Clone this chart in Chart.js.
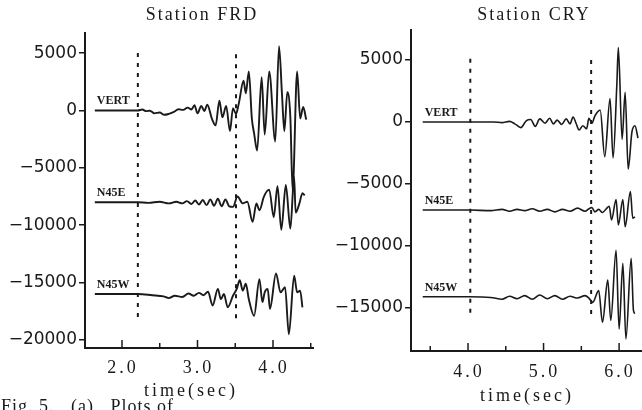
<!DOCTYPE html>
<html>
<head>
<meta charset="utf-8">
<script src="https://cdn.jsdelivr.net/npm/chart.js@4.4.1/dist/chart.umd.min.js"></script>
<style>
  html, body { margin: 0; padding: 0; background: #fff; }
  #wrap { position: relative; width: 642px; height: 410px; overflow: hidden; background: #fff; }
  canvas { position: absolute; top: 0; }
  #left { left: 0; }
  #right { left: 321px; }
  #caption { position: absolute; left: 1px; top: 396px; font: 18px "Liberation Serif", serif; letter-spacing: 1px; white-space: pre; color: #1a1a1a; }
</style>
</head>
<body>
<div id="wrap">
  <canvas id="left" width="321" height="410"></canvas>
  <canvas id="right" width="321" height="410"></canvas>
  <div id="caption">Fig. 5.   (a)   Plots of</div>
</div>
<script>
// component names, drawn at the start of each trace
const components = ['VERT', 'N45E', 'N45W']

// ---- Station FRD ----
const frdVertT = [1.64, 2.21, 2.27, 2.32, 2.37, 2.43, 2.50, 2.56, 2.62, 2.68, 2.75, 2.81, 2.87, 2.92, 2.96, 3.00, 3.05, 3.09, 3.13, 3.19, 3.24, 3.29, 3.33, 3.38, 3.43, 3.47, 3.51, 3.55, 3.61, 3.64, 3.68, 3.72, 3.75, 3.79, 3.85, 3.89, 3.95, 4.03, 4.08, 4.12, 4.15, 4.19, 4.23, 4.26, 4.32, 4.36, 4.40, 4.44]
const frdVert = [0, 0, 80, -60, -20, -250, -180, -380, -300, -150, 100, 50, 250, 80, 450, -250, 400, -50, 500, -700, -1300, 850, -600, 400, -1800, 200, -300, 700, 2600, 1500, 3400, -700, -2000, -3500, 2900, -2100, 3400, -2700, 5600, 1300, -1800, 1600, -600, -7000, 3400, -700, 300, -800]

const frdN45eT = [1.64, 2.21, 2.35, 2.5, 2.62, 2.72, 2.8, 2.86, 2.92, 2.97, 3.02, 3.07, 3.12, 3.17, 3.22, 3.27, 3.32, 3.37, 3.42, 3.47, 3.53, 3.60, 3.66, 3.73, 3.78, 3.82, 3.88, 3.95, 4.01, 4.06, 4.11, 4.17, 4.23, 4.28, 4.30, 4.35, 4.39, 4.42]
const frdN45e = [-8000, -8000, -8050, -7950, -8100, -7950, -8100, -7900, -8150, -7850, -8200, -7800, -8250, -7750, -8300, -7700, -8350, -7750, -8350, -8400, -7500, -8100, -7950, -9700, -8100, -8700, -7500, -6900, -9300, -6600, -10400, -6500, -10300, -5800, -8900, -8100, -7200, -7400]

const frdN45wT = [1.64, 2.21, 2.4, 2.55, 2.62, 2.7, 2.8, 2.88, 2.95, 3.02, 3.08, 3.14, 3.20, 3.27, 3.31, 3.35, 3.40, 3.47, 3.52, 3.56, 3.60, 3.64, 3.68, 3.75, 3.82, 3.86, 3.89, 3.93, 3.96, 4.04, 4.10, 4.16, 4.21, 4.28, 4.32, 4.36, 4.39]
const frdN45w = [-16000, -16000, -16100, -16200, -16350, -16150, -16250, -15950, -16150, -15900, -16100, -15800, -17000, -15550, -16450, -16000, -17150, -16150, -15550, -14800, -15700, -15100, -16450, -17900, -14700, -16700, -15850, -15550, -17300, -14200, -15850, -15400, -19500, -14400, -15850, -15700, -17150]

const frdPickTimes = [2.21, 3.51]
const frdPickTop = [5000, 4900]
const frdPickBottom = [-18000, -18300]
const frdYTicks = [5000, 0, -5000, -10000, -15000, -20000]
const frdXTicks = [2.0, 2.5, 3.0, 3.5, 4.0, 4.5]
const frdXLabels = [2.0, 3.0, 4.0]

// ---- Station CRY ----
const cryVertT = [3.40, 4.03, 4.34, 4.45, 4.55, 4.62, 4.70, 4.77, 4.83, 4.89, 4.95, 5.02, 5.08, 5.13, 5.18, 5.24, 5.30, 5.35, 5.39, 5.43, 5.47, 5.52, 5.57, 5.60, 5.64, 5.68, 5.75, 5.81, 5.88, 5.92, 5.97, 5.99, 6.04, 6.08, 6.12, 6.17, 6.21, 6.25]
const cryVert = [0, 0, 0, -50, 50, -150, -450, 100, 200, -350, 250, -100, 300, -150, 150, -200, 250, -150, 400, -100, -650, -300, -550, 300, -100, 500, 950, -2800, 1900, -2900, 3000, 6000, -1400, 2400, -3800, -800, -300, -1300]

const cryN45eT = [3.40, 4.03, 4.3, 4.45, 4.55, 4.65, 4.75, 4.85, 4.95, 5.05, 5.15, 5.25, 5.35, 5.45, 5.55, 5.60, 5.64, 5.68, 5.73, 5.78, 5.83, 5.87, 5.90, 5.96, 5.99, 6.05, 6.08, 6.15, 6.18, 6.21]
const cryN45e = [-7100, -7100, -7150, -7050, -7200, -7050, -7150, -7000, -7200, -7050, -7250, -7050, -7200, -6950, -7200, -7000, -6900, -7250, -7050, -7300, -7000, -6800, -7900, -6250, -8300, -6250, -8450, -5600, -7750, -7650]

const cryN45wT = [3.40, 4.02, 4.3, 4.45, 4.55, 4.65, 4.75, 4.85, 4.95, 5.05, 5.15, 5.25, 5.35, 5.45, 5.55, 5.60, 5.65, 5.73, 5.78, 5.85, 5.89, 5.96, 6.00, 6.05, 6.09, 6.16, 6.19, 6.21]
const cryN45w = [-14100, -14100, -14150, -14300, -14050, -14250, -14000, -14300, -13950, -14250, -14000, -14300, -14050, -14200, -14000, -14200, -14550, -13600, -16150, -12750, -16000, -10350, -16700, -11400, -17500, -11000, -15200, -15450]

const cryPickTimes = [4.03, 5.63]
const cryPickTop = [5100, 5000]
const cryPickBottom = [-15800, -15800]
const cryYTicks = [5000, 0, -5000, -10000, -15000]
const cryXTicks = [3.5, 4.0, 4.5, 5.0, 5.5, 6.0]
const cryXLabels = [4.0, 5.0, 6.0]

const ink = '#1a1a1a'
const serif = '"Liberation Serif", "DejaVu Serif", serif'

// titles, x tick labels, axis name and trace names drawn as canvas text
const stationText = {
  id: 'stationText',
  afterDraw(chart, args, o) {
    const { ctx, chartArea: a, scales: { x, y } } = chart
    const mid = (a.left + a.right) / 2
    ctx.save()
    ctx.fillStyle = ink
    ctx.strokeStyle = ink

    // inward x ticks
    ctx.lineWidth = 1.5
    o.xTicks.forEach(v => {
      const px = x.getPixelForValue(v)
      const major = o.xLabels.includes(v)
      ctx.beginPath()
      ctx.moveTo(px, a.bottom)
      ctx.lineTo(px, a.bottom - (major ? 8 : 5))
      ctx.stroke()
    })

    ctx.textAlign = 'center'
    ctx.textBaseline = 'middle'

    ctx.font = '18px ' + serif
    ctx.letterSpacing = '2px'
    ctx.fillText(o.title, mid + o.titleShift, o.titleY)

    ctx.letterSpacing = '3px'
    o.xLabels.forEach(v => {
      ctx.fillText(v.toFixed(1), x.getPixelForValue(v) + 1, a.bottom + o.tickGap)
    })

    ctx.fillText('time(sec)', mid + o.axisShift, a.bottom + o.axisGap)

    ctx.letterSpacing = '0px'
    ctx.font = 'bold 12px ' + serif
    ctx.textAlign = 'left'
    ctx.textBaseline = 'alphabetic'
    o.traces.forEach((tr, i) => {
      ctx.fillText(components[i], x.getPixelForValue(tr.t[0]) + 2, y.getPixelForValue(tr.v[0]) - 6)
    })
    ctx.restore()
  }
}

function stationChart(id, p) {
  const traces = p.traces.map(tr => ({
    data: tr.t.map((t, i) => ({ x: t, y: tr.v[i] })),
    borderColor: ink,
    borderWidth: p.lineWidth,
    pointRadius: 0,
    cubicInterpolationMode: 'monotone',
  }))
  const picks = p.pickTimes.map((t, i) => ({
    data: [{ x: t, y: p.pickTop[i] }, { x: t, y: p.pickBottom[i] }],
    borderColor: ink,
    borderWidth: 2,
    borderDash: [4, 6],
    pointRadius: 0,
    tension: 0,
  }))

  return new Chart(document.getElementById(id), {
    type: 'line',
    data: { datasets: traces.concat(picks) },
    options: {
      responsive: false,
      animation: false,
      layout: { padding: { top: p.top, right: p.right, bottom: 0, left: 0 } },
      plugins: {
        legend: { display: false },
        tooltip: { enabled: false },
        stationText: {
          title: p.title, titleY: 15, titleShift: p.titleShift,
          xTicks: p.xTicks, xLabels: p.xLabels,
          tickGap: p.tickGap, axisGap: p.axisGap, axisShift: p.axisShift,
          traces: p.traces,
        },
      },
      scales: {
        x: {
          type: 'linear',
          min: p.xMin,
          max: p.xMax,
          afterFit: s => { s.height = p.xHeight },
          ticks: { display: false },
          grid: { drawOnChartArea: false, drawTicks: false },
          border: { color: ink, width: 2 },
        },
        y: {
          min: p.yMin,
          max: p.yMax,
          afterBuildTicks: s => { s.ticks = p.yTicks.map(value => ({ value })) },
          afterFit: s => { s.width = p.yWidth },
          ticks: {
            color: ink,
            padding: 2,
            font: { family: '"DejaVu Sans", sans-serif', size: 17 },
            callback: v => (v < 0 ? '\u2212' + Math.abs(v) : String(v)),
          },
          grid: { drawOnChartArea: false, tickLength: 6, color: ink, lineWidth: 1.5 },
          border: { color: ink, width: 2 },
        },
      },
    },
    plugins: [stationText],
  })
}

stationChart('left', {
  title: 'Station FRD', titleShift: 3,
  traces: [
    { t: frdVertT, v: frdVert },
    { t: frdN45eT, v: frdN45e },
    { t: frdN45wT, v: frdN45w },
  ],
  pickTimes: frdPickTimes, pickTop: frdPickTop, pickBottom: frdPickBottom,
  yTicks: frdYTicks, xTicks: frdXTicks, xLabels: frdXLabels,
  xMin: 1.51, xMax: 4.53, yMin: -20700, yMax: 6750,
  top: 33, right: 8, yWidth: 85, xHeight: 62,
  tickGap: 20, axisGap: 43, axisShift: -8, lineWidth: 1.9,
})

stationChart('right', {
  title: 'Station CRY', titleShift: 8,
  traces: [
    { t: cryVertT, v: cryVert },
    { t: cryN45eT, v: cryN45e },
    { t: cryN45wT, v: cryN45w },
  ],
  pickTimes: cryPickTimes, pickTop: cryPickTop, pickBottom: cryPickBottom,
  yTicks: cryYTicks, xTicks: cryXTicks, xLabels: cryXLabels,
  xMin: 3.245, xMax: 6.29, yMin: -18470, yMax: 7420,
  top: 30, right: 1, yWidth: 90, xHeight: 59,
  tickGap: 21, axisGap: 45, axisShift: 1, lineWidth: 1.6,
})
</script>
</body>
</html>
